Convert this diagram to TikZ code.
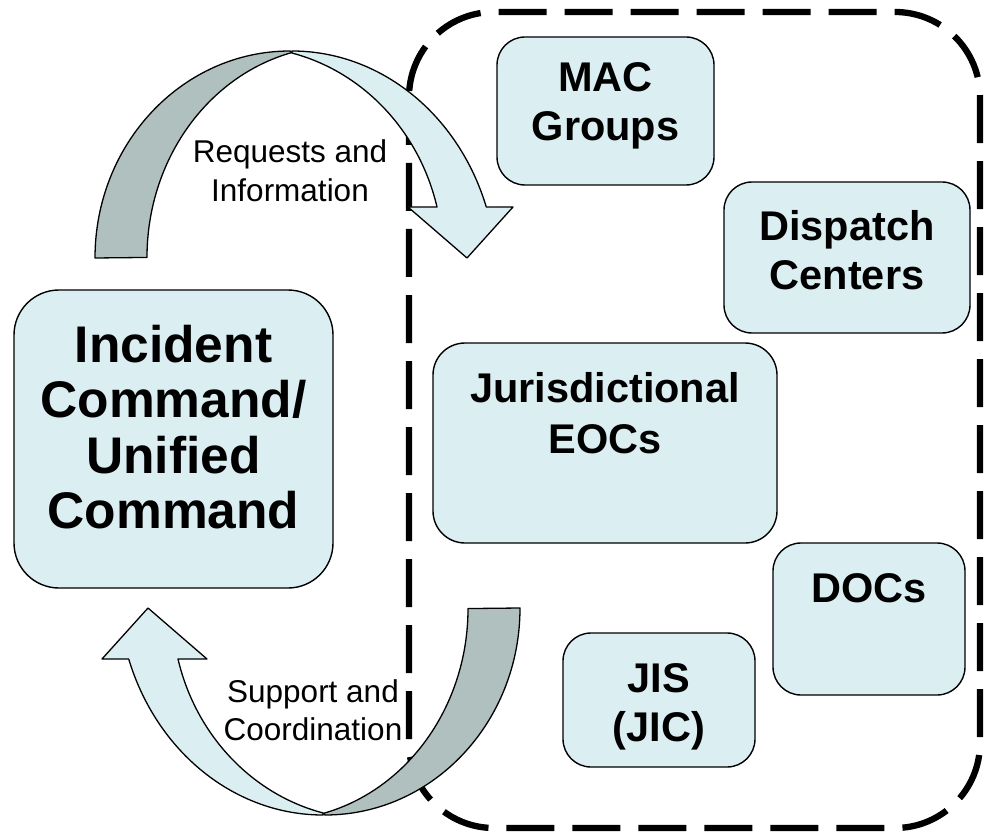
\documentclass[tikz,border=0pt]{standalone}
\usepackage{fontspec}
\setmainfont{Liberation Sans}
\definecolor{boxfill}{RGB}{219,238,241}
\definecolor{ribback}{RGB}{176,192,191}
\newcommand\mlines[1]{\begin{tabular}[t]{@{}c@{}}#1\end{tabular}}
\newcommand\ribbonarrow{%
  \filldraw[ribb] (95,258) arc[start angle=180, end angle=270, x radius=195, y radius=207]
     -- (292,52.5) arc[start angle=255.6, end angle=180, x radius=193, y radius=211.6] -- cycle;
  \filldraw[ribf] (292,52.5) -- (292,51) arc[start angle=270, end angle=341.41, x radius=205, y radius=229]
     -- (513,207) -- (467,258) -- (408,207) -- (437,207)
     arc[start angle=346.03, end angle=283.96, x radius=199, y radius=211.2] -- cycle;
}
\tikzset{
  box/.style={draw=black, line width=1.4pt, fill=boxfill, inner sep=0pt},
  ribb/.style={draw=black, line width=1.3pt, fill=ribback, line join=round},
  ribf/.style={draw=black, line width=1.3pt, fill=boxfill, line join=round},
  btext/.style={inner sep=0pt, anchor=base, font=\bfseries\fontsize{41.5}{49}\selectfont},
  ltext/.style={inner sep=0pt, anchor=base, font=\fontsize{31.5}{38.5}\selectfont},
  region/.style={draw=black, line width=6.3pt, dash pattern=on 48pt off 18pt, rounded corners=85pt}
}
\begin{document}
\begin{tikzpicture}[x=1pt,y=-1pt]
\useasboundingbox (0,0) rectangle (999,837);
\fill[white] (0,0) rectangle (999,837);

% dashed region
\draw[region] (409,12) rectangle (980,828);

% boxes
\node[box, rounded corners=45pt, minimum width=319pt, minimum height=298pt] (ic) at (173.5,439) {};
\node[box, rounded corners=28pt, minimum width=217pt, minimum height=148pt] (mac) at (605.5,111) {};
\node[box, rounded corners=28pt, minimum width=246pt, minimum height=151pt] (disp) at (847,257.5) {};
\node[box, rounded corners=32pt, minimum width=344pt, minimum height=200pt] (eoc) at (605,443) {};
\node[box, rounded corners=28pt, minimum width=192pt, minimum height=152pt] (docs) at (869,619) {};
\node[box, rounded corners=28pt, minimum width=192pt, minimum height=134pt] (jis) at (659,700) {};

% box texts
\node[btext, font=\bfseries\fontsize{51.5}{55.5}\selectfont] (ictext) at (173.5,362) {\mlines{Incident\\Command/\\Unified\\Command}};
\node[btext] (mactext) at (605.5,92) {\mlines{MAC\\Groups}};
\node[btext] (disptext) at (847,241) {\mlines{Dispatch\\Centers}};
\node[btext, font=\bfseries\fontsize{41.5}{51}\selectfont] (eoctext) at (605,402) {\mlines{Jurisdictional\\EOCs}};
\node[btext] (docstext) at (869,602) {DOCs};
\node[btext] (jistext) at (659,692) {\mlines{JIS\\(JIC)}};

% curved arrows
\ribbonarrow
\begin{scope}[rotate around={180:(307.5,433)}]
\ribbonarrow
\end{scope}

% arrow labels
\node[ltext] (req) at (290,163) {\mlines{Requests and\\Information}};
\node[ltext] (sup) at (313,702) {\mlines{Support and\\Coordination}};
\end{tikzpicture}
\end{document}
